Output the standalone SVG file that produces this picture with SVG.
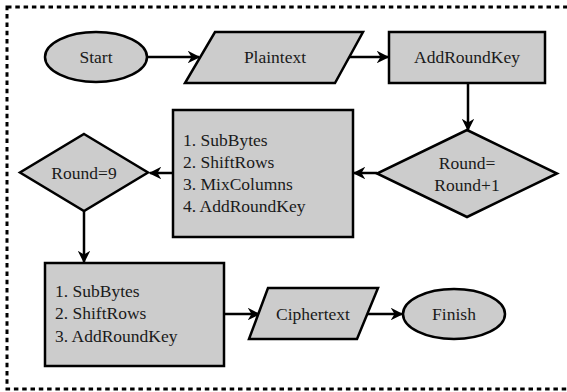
<svg xmlns="http://www.w3.org/2000/svg" width="567" height="392" viewBox="0 0 567 392">
<defs>
<style>
.n{fill:#cccccc;stroke:#000;stroke-width:2.5}
.t{font-size:17.5px;fill:#1a1a1a}
.c{text-anchor:middle}
.e{stroke:#000;stroke-width:2.5;fill:none;marker-end:url(#ah)}
</style>
<marker id="ah" viewBox="0 0 10 10" refX="9" refY="5" markerWidth="5" markerHeight="5" orient="auto" markerUnits="strokeWidth">
<path d="M0,0 L10,5 L0,10 L3,5 Z" fill="#000"/>
</marker>
</defs>
<rect x="0" y="0" width="567" height="392" fill="#fff"/>
<rect x="7" y="7" width="570" height="382" fill="none" stroke="#000" stroke-width="3" stroke-dasharray="4.5 3.8"/>
<g id="connectors">
<line class="e" x1="147" y1="57" x2="199" y2="57"/>
<line class="e" x1="349" y1="57" x2="388" y2="57"/>
<line class="e" x1="468" y1="83" x2="468" y2="130"/>
<line class="e" x1="377" y1="173" x2="354" y2="173"/>
<line class="e" x1="173" y1="173" x2="150" y2="173"/>
<line class="e" x1="84" y1="211" x2="84" y2="262"/>
<line class="e" x1="224" y1="314" x2="259" y2="314"/>
<line class="e" x1="367" y1="314" x2="402" y2="314"/>
</g>
<g font-family="'Liberation Serif', 'Times New Roman', serif">
<g id="start">
<ellipse class="n" cx="96" cy="57" rx="51" ry="25"/>
<text class="t c" x="96" y="63">Start</text>
</g>
<g id="plaintext">
<polygon class="n" points="215,32 363,32 335,83 185,83"/>
<text class="t c" x="275" y="63">Plaintext</text>
</g>
<g id="addroundkey">
<rect class="n" x="389" y="32" width="156" height="51"/>
<text class="t c" x="467" y="63">AddRoundKey</text>
</g>
<g id="round-inc">
<polygon class="n" points="467,130 557,173.5 467,217 377,173.5"/>
<text class="t c" x="467" y="169">Round=</text>
<text class="t c" x="467" y="191">Round+1</text>
</g>
<g id="round-steps">
<rect class="n" x="173" y="110" width="180" height="127"/>
<text class="t" x="183" y="146">1. SubBytes</text>
<text class="t" x="183" y="168">2. ShiftRows</text>
<text class="t" x="183" y="190">3. MixColumns</text>
<text class="t" x="183" y="212">4. AddRoundKey</text>
</g>
<g id="round9">
<polygon class="n" points="84,134 148,172.5 84,211 20,172.5"/>
<text class="t c" x="84" y="179">Round=9</text>
</g>
<g id="final-steps">
<rect class="n" x="45" y="263" width="179" height="103"/>
<text class="t" x="55" y="297">1. SubBytes</text>
<text class="t" x="55" y="319">2. ShiftRows</text>
<text class="t" x="55" y="342">3. AddRoundKey</text>
</g>
<g id="ciphertext">
<polygon class="n" points="268,288 378,288 357,339 249,339"/>
<text class="t c" x="313" y="320">Ciphertext</text>
</g>
<g id="finish">
<ellipse class="n" cx="454" cy="314" rx="51" ry="25"/>
<text class="t c" x="454" y="320">Finish</text>
</g>
</g>
</svg>
